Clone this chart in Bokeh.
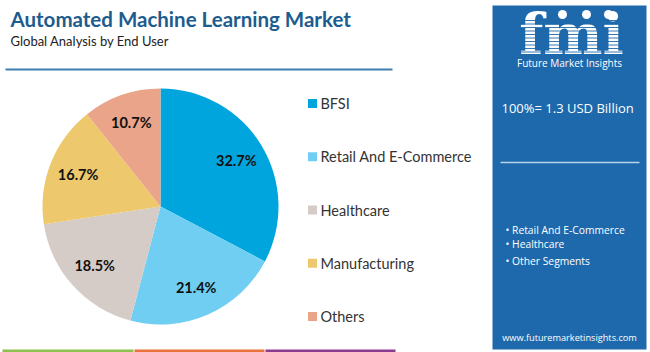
import math
from bokeh.plotting import figure
from bokeh.models import Range1d
from bokeh.core.properties import value
from bokeh.embed import file_html
from bokeh.resources import INLINE

# ---- data ----
categories = ["BFSI", "Retail And E-Commerce", "Healthcare", "Manufacturing", "Others"]
shares = [32.7, 21.4, 18.5, 16.7, 10.7]
colors = ["#00A5DE", "#6FCEF2", "#D6CCC7", "#EDC86C", "#E9A489"]
title = "Automated Machine Learning Market"
subtitle = "Global Analysis by End User"
total_label = "100%= 1.3 USD Billion"
bullets = ["Retail And E-Commerce", "Healthcare", "Other Segments"]
website = "www.futuremarketinsights.com"

W, H = 650, 352
def Y(y):
    return H - y

p = figure(width=W, height=H, output_backend="svg", toolbar_location=None,
           x_range=Range1d(0, W), y_range=Range1d(0, H), min_border=0)
p.axis.visible = False
p.grid.visible = False
p.outline_line_color = None
p.background_fill_color = "white"
p.border_fill_color = "white"

# header
p.text(x=[10], y=[Y(18)], text=[title], text_font=value("Lato"), text_font_style="bold",
       text_font_size="20.5px", text_color="#1D5C8E", text_baseline="middle")
p.text(x=[10], y=[Y(40)], text=[subtitle], text_font=value("Lato"),
       text_font_size="13px", text_color="#222222", text_baseline="middle")
p.segment(x0=[5], y0=[Y(69)], x1=[392], y1=[Y(69)], line_color="#3F7FB0", line_width=2)

# pie
cx, cy, r = 160, Y(206), 118
starts, ends, lx, ly, labels = [], [], [], [], []
cum = 0.0
tot = sum(shares)
for s in shares:
    a0 = math.pi / 2 - 2 * math.pi * cum / tot
    a1 = math.pi / 2 - 2 * math.pi * (cum + s) / tot
    starts.append(a0)
    ends.append(a1)
    mid = (a0 + a1) / 2
    lx.append(cx + 0.75 * r * math.cos(mid))
    ly.append(cy + 0.75 * r * math.sin(mid))
    labels.append(f"{s:.1f}%")
    cum += s
p.wedge(x=cx, y=cy, radius=r, start_angle=starts, end_angle=ends, direction="clock",
        fill_color=colors, line_color=None)
p.text(x=lx, y=ly, text=labels, text_font=value("Lato"), text_font_style="bold",
       text_font_size="14.5px", text_color="#111111", text_align="center", text_baseline="middle")

# legend
leg_y = [Y(103 + 53.25 * i) for i in range(len(categories))]
p.scatter(x=[312] * len(categories), y=leg_y, marker="square", size=9,
          fill_color=colors, line_color=None)
p.text(x=[320] * len(categories), y=leg_y, text=categories, text_font=value("Lato"),
       text_font_size="14.5px", text_color="#333333", text_baseline="middle")

# right panel
panel = "#1E69AC"
p.quad(left=492, right=646, top=Y(5), bottom=Y(349), fill_color=panel, line_color=None)
# logo
p.text(x=[571], y=[Y(33)], text=["fmi"], text_font=value("DejaVu Serif"), text_font_style="bold",
       text_font_size="56px", text_color="white", text_align="center", text_baseline="middle")
stripe_y = [Y(20 + 3.5 * i) for i in range(10)]
p.segment(x0=[512] * 10, y0=stripe_y, x1=[630] * 10, y1=stripe_y, line_color=panel, line_width=0.9)
p.scatter(x=[562, 586, 608], y=[Y(14)] * 3, marker="circle", size=9, fill_color="white", line_color=None)
p.text(x=[569], y=[Y(62)], text=["Future Market Insights"], text_font=value("Open Sans"),
       text_font_size="10px", text_color="white", text_align="center", text_baseline="middle")
p.text(x=[501], y=[Y(107)], text=[total_label], text_font=value("Open Sans"),
       text_font_size="13px", text_color="white", text_baseline="middle")
p.segment(x0=[500], y0=[Y(162)], x1=[639], y1=[Y(162)], line_color="#B8D4EC", line_width=1.5)
by = [Y(229), Y(243), Y(260)]
p.text(x=[505] * 3, y=by, text=["\u2022 " + b for b in bullets], text_font=value("Open Sans"),
       text_font_size="10.3px", text_color="white", text_baseline="middle")
p.text(x=[569], y=[Y(337)], text=[website], text_font=value("Open Sans"),
       text_font_size="9.2px", text_color="white", text_align="center", text_baseline="middle")

# bottom strips
p.quad(left=[2, 134, 265], right=[133, 264, 395], top=[Y(349)] * 3, bottom=[0] * 3,
       fill_color=["#8CC04F", "#E8743B", "#8C3B8F"], line_color=None)

open("out.html", "w").write(file_html(p, INLINE))
